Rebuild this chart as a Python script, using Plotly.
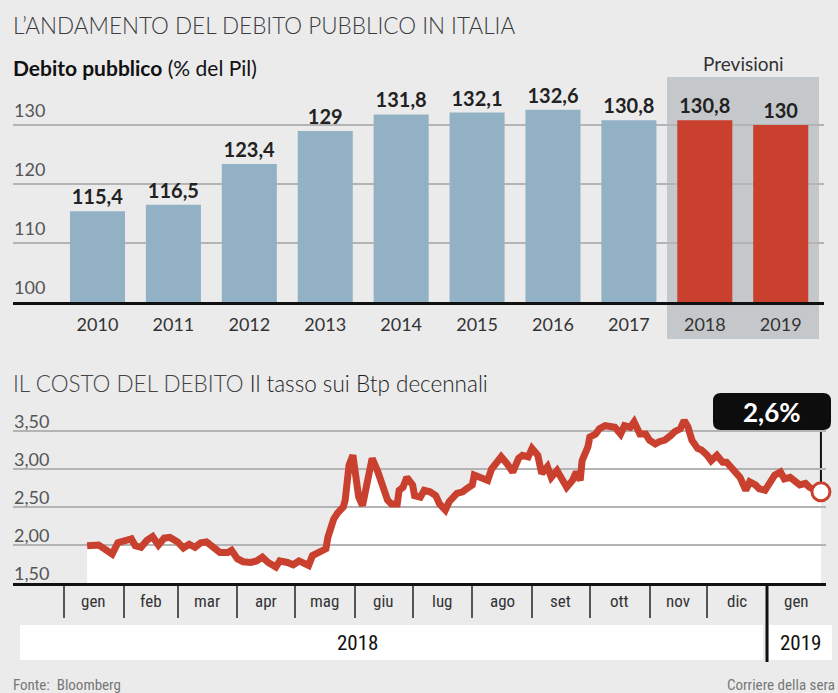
import plotly.graph_objects as go
import pandas as pd

# ---------------- data ----------------
years = ["2010", "2011", "2012", "2013", "2014", "2015", "2016", "2017", "2018", "2019"]
debt = [115.4, 116.5, 123.4, 129, 131.8, 132.1, 132.6, 130.8, 130.8, 130]
debt_text = ["115,4", "116,5", "123,4", "129", "131,8", "132,1", "132,6", "130,8", "130,8", "130"]
is_forecast = [False, False, False, False, False, False, False, False, True, True]
debt_ticks = [100, 110, 120, 130]

# 10-year BTP yield, days counted from 2018-01-01
rate_day = [12, 18, 21, 25, 28, 32, 35, 37, 40, 43,
            46, 49, 52, 55, 59, 62, 65, 68, 71, 74,
            77, 81, 85, 87, 90, 93, 97, 100, 103, 106,
            110, 112, 116, 119, 122, 124, 127, 129, 133, 136,
            137, 140, 142, 145, 146, 147, 148, 150, 151, 153,
            155, 158, 160, 163, 165, 168, 170, 173, 174, 176,
            178, 181, 182, 185, 187, 190, 193, 195, 198, 200,
            204, 207, 209, 212, 213, 216, 220, 222, 225, 227,
            230, 233, 236, 238, 241, 243, 246, 248, 251, 253,
            256, 259, 261, 264, 266, 268, 269, 272, 273, 276,
            278, 281, 283, 286, 289, 291, 294, 296, 299, 302,
            304, 307, 309, 312, 315, 317, 320, 322, 324, 326,
            329, 331, 334, 336, 339, 342, 344, 347, 349, 351,
            354, 356, 359, 361, 364, 367, 369, 372, 374, 377,
            380, 382, 385, 387, 390, 393]
rate = [1.99, 2.00, 1.95, 1.88, 2.03, 2.06, 2.08, 1.99, 1.97, 2.06,
        2.11, 2.00, 2.09, 2.10, 2.04, 1.96, 2.01, 1.97, 2.03, 2.04,
        1.98, 1.90, 1.90, 1.93, 1.82, 1.78, 1.77, 1.79, 1.84, 1.77,
        1.71, 1.79, 1.77, 1.74, 1.79, 1.77, 1.73, 1.86, 1.90, 1.95,
        2.10, 2.34, 2.42, 2.50, 2.59, 2.85, 3.05, 3.18, 2.94, 2.63,
        2.52, 2.94, 3.14, 2.96, 2.81, 2.59, 2.54, 2.54, 2.72, 2.76,
        2.89, 2.79, 2.65, 2.63, 2.72, 2.70, 2.65, 2.54, 2.46, 2.57,
        2.68, 2.70, 2.74, 2.79, 2.92, 2.89, 2.85, 3.00, 3.09, 3.16,
        3.07, 2.96, 3.14, 3.18, 3.16, 3.27, 3.18, 2.94, 3.03, 2.89,
        2.98, 2.85, 2.76, 2.85, 2.96, 2.85, 3.11, 3.29, 3.42, 3.46,
        3.53, 3.57, 3.57, 3.55, 3.46, 3.57, 3.55, 3.62, 3.46, 3.46,
        3.38, 3.33, 3.36, 3.38, 3.44, 3.49, 3.53, 3.64, 3.55, 3.38,
        3.27, 3.25, 3.18, 3.11, 3.18, 3.09, 3.09, 3.00, 2.94, 2.89,
        2.72, 2.83, 2.79, 2.74, 2.72, 2.83, 2.92, 2.96, 2.87, 2.89,
        2.81, 2.79, 2.81, 2.76, 2.72, 2.70]
rate_ticks = [1.5, 2.0, 2.5, 3.0, 3.5]
rate_tick_text = ["1,50", "2,00", "2,50", "3,00", "3,50"]
months = ["gen", "feb", "mar", "apr", "mag", "giu", "lug", "ago", "set", "ott", "nov", "dic", "gen"]
last_label = "2,6%"

# ---------------- style ----------------
W, H = 838, 693
BG = "#ebebec"
BLUE = "#93b1c4"
RED = "#c9402f"
GRID = "#b4b4b4"
FONT = "Lato, 'Open Sans', sans-serif"
NARROW = "'Liberation Sans Narrow', 'Roboto Condensed', 'Arial Narrow', sans-serif"


def px(x):
    return x / W


def py(y):
    return 1 - y / H


start = pd.Timestamp("2018-01-01")
dates = start + pd.to_timedelta(rate_day, unit="D")
month_starts = pd.date_range("2018-01-01", periods=14, freq="MS")
month_mids = [month_starts[i] + (month_starts[i + 1] - month_starts[i]) / 2 for i in range(13)]
day_per_px = 365 / 703.0
x3_range = [str(start - pd.Timedelta(days=51 * day_per_px)), str(start + pd.Timedelta(days=762 * day_per_px))]

R_LO, R_HI = 1.5, 3.75
R_TOP_PX, R_BOT_PX = 412, 583


def val_at(ypix):
    return R_LO + (R_BOT_PX - ypix) / (R_BOT_PX - R_TOP_PX) * (R_HI - R_LO)


fig = go.Figure()

# bars
fig.add_trace(go.Bar(
    x=list(range(len(years))), y=debt,
    marker_color=[RED if f else BLUE for f in is_forecast], marker_line_width=0,
    width=0.725, text=debt_text, textposition="outside", cliponaxis=False,
    textfont=dict(family=FONT, size=20, color="#222", weight="bold"),
    xaxis="x", yaxis="y", hoverinfo="skip",
))

# white area under the yield line (own subplot so gridlines sit above it)
fig.add_trace(go.Scatter(
    x=dates, y=rate, mode="lines", fill="tozeroy", fillcolor="white",
    line=dict(width=0, color="white"), xaxis="x2", yaxis="y2", hoverinfo="skip",
))
# yield line
fig.add_trace(go.Scatter(
    x=dates, y=rate, mode="lines", line=dict(color=RED, width=7),
    xaxis="x3", yaxis="y3", hoverinfo="skip",
))
# end marker
fig.add_trace(go.Scatter(
    x=[dates[-1]], y=[rate[-1]], mode="markers", cliponaxis=False,
    marker=dict(symbol="circle", size=18, color="white", line=dict(color=RED, width=3)),
    xaxis="x3", yaxis="y3", hoverinfo="skip",
))

shapes = []
# forecast shading
shapes.append(dict(type="rect", xref="paper", yref="paper", x0=px(667), x1=px(819),
                   y0=py(339), y1=py(77), fillcolor="#c5c8cb", line_width=0, layer="below"))
# white year bands
shapes.append(dict(type="rect", xref="paper", yref="paper", x0=px(20), x1=px(763),
                   y0=py(660), y1=py(625), fillcolor="white", line_width=0, layer="below"))
shapes.append(dict(type="rect", xref="paper", yref="paper", x0=px(769), x1=px(832),
                   y0=py(660), y1=py(625), fillcolor="white", line_width=0, layer="below"))
# year divider
shapes.append(dict(type="line", xref="x3", yref="paper", x0=month_starts[12], x1=month_starts[12],
                   y0=py(583), y1=py(662), line=dict(color="#111", width=3), layer="above"))
# callout connector
shapes.append(dict(type="line", xref="x3", yref="y3", x0=dates[-1], x1=dates[-1],
                   y0=rate[-1], y1=val_at(430), line=dict(color="#111", width=2), layer="below"))
# callout rounded box
bx0, bx1, by0, by1 = px(713), px(831), py(430), py(393)
rx, ry = 8 / W, 8 / H
path = (f"M {bx0+rx},{by1} L {bx1-rx},{by1} Q {bx1},{by1} {bx1},{by1-ry} "
        f"L {bx1},{by0+ry} Q {bx1},{by0} {bx1-rx},{by0} L {bx0+rx},{by0} "
        f"Q {bx0},{by0} {bx0},{by0+ry} L {bx0},{by1-ry} Q {bx0},{by1} {bx0+rx},{by1} Z")
shapes.append(dict(type="path", xref="paper", yref="paper", path=path,
                   fillcolor="#0d0d0d", line_width=0, layer="above"))

annotations = []
# titles
annotations.append(dict(text="L’ANDAMENTO DEL DEBITO PUBBLICO IN ITALIA", xref="paper", yref="paper",
                        x=px(11), y=py(26), xanchor="left", yanchor="middle", showarrow=False,
                        font=dict(family=FONT, size=22.5, color="#3c3c3c", weight=300)))
annotations.append(dict(text="<b>Debito pubblico</b> (% del Pil)", xref="paper", yref="paper",
                        x=px(11), y=py(67), xanchor="left", yanchor="middle", showarrow=False,
                        font=dict(family=FONT, size=21, color="#111")))
annotations.append(dict(text="Previsioni", xref="paper", yref="paper",
                        x=px(743), y=py(63), xanchor="center", yanchor="middle", showarrow=False,
                        font=dict(family=FONT, size=19, color="#333")))
annotations.append(dict(text="IL COSTO DEL DEBITO <span style='color:#222'>Il tasso sui Btp decennali</span>",
                        xref="paper", yref="paper",
                        x=px(11), y=py(383), xanchor="left", yanchor="middle", showarrow=False,
                        font=dict(family=FONT, size=22.5, color="#444", weight=300)))
# y labels top chart
for v in debt_ticks:
    annotations.append(dict(text=str(v), xref="paper", yref="y", x=px(12), y=v, yshift=15,
                            xanchor="left", yanchor="middle", showarrow=False,
                            font=dict(family=FONT, size=18, color="#555")))
# y labels bottom chart
for v, t in zip(rate_ticks, rate_tick_text):
    annotations.append(dict(text=t, xref="paper", yref="y3", x=px(12), y=v, yshift=10,
                            xanchor="left", yanchor="middle", showarrow=False,
                            font=dict(family=FONT, size=18, color="#555")))
# month labels
for m, d in zip(months, month_mids):
    annotations.append(dict(text=m, xref="x3", yref="paper", x=d, y=py(601),
                            xanchor="center", yanchor="middle", showarrow=False,
                            font=dict(family=NARROW, size=17, color="#333")))
annotations.append(dict(text="2018", xref="paper", yref="paper", x=px(357), y=py(643),
                        xanchor="center", yanchor="middle", showarrow=False,
                        font=dict(family=NARROW, size=21, color="#111")))
annotations.append(dict(text="2019", xref="paper", yref="paper", x=px(800), y=py(643),
                        xanchor="center", yanchor="middle", showarrow=False,
                        font=dict(family=NARROW, size=21, color="#111")))
annotations.append(dict(text=last_label, xref="paper", yref="paper", x=(bx0 + bx1) / 2, y=(by0 + by1) / 2,
                        xanchor="center", yanchor="middle", showarrow=False,
                        font=dict(family=FONT, size=26, color="white", weight="bold")))
annotations.append(dict(text="Fonte:  Bloomberg", xref="paper", yref="paper", x=px(11), y=py(685),
                        xanchor="left", yanchor="middle", showarrow=False,
                        font=dict(family=NARROW, size=15, color="#777")))
annotations.append(dict(text="Corriere della sera", xref="paper", yref="paper", x=px(837), y=py(685),
                        xanchor="right", yanchor="middle", showarrow=False,
                        font=dict(family=NARROW, size=15, color="#777")))

fig.update_layout(
    width=W, height=H, margin=dict(l=0, r=0, t=0, b=0),
    paper_bgcolor=BG, plot_bgcolor="rgba(0,0,0,0)", showlegend=False,
    shapes=shapes, annotations=annotations,
    xaxis=dict(domain=[px(13), px(824)], range=[-1.113, 9.57], tickvals=list(range(len(years))),
               ticktext=years, ticks="", showgrid=False, zeroline=False, showline=True,
               linecolor="#111", linewidth=3, ticklabelstandoff=4,
               tickfont=dict(family=FONT, size=18, color="#333"), anchor="y", fixedrange=True),
    yaxis=dict(domain=[py(302), py(302 - 36 * 5.9)], range=[100, 136], tickvals=debt_ticks[1:],
               showticklabels=False, showgrid=True, gridcolor=GRID, gridwidth=2, zeroline=False,
               ticks="", anchor="x", fixedrange=True),
    xaxis2=dict(domain=[px(13), px(826)], type="date", range=x3_range, visible=False, anchor="y2"),
    yaxis2=dict(domain=[py(R_BOT_PX), py(R_TOP_PX)], range=[R_LO, R_HI], visible=False, anchor="x2"),
    xaxis3=dict(domain=[px(13), px(826)], type="date", range=x3_range, showgrid=False, zeroline=False,
                showline=True, linecolor="#111", linewidth=3, ticks="outside", ticklen=32,
                tickwidth=1.5, tickcolor="#555", tickvals=list(month_starts[:13]),
                showticklabels=False, anchor="y3"),
    yaxis3=dict(domain=[py(R_BOT_PX), py(R_TOP_PX)], range=[R_LO, R_HI], tickvals=rate_ticks[1:],
                showticklabels=False, showgrid=True, gridcolor=GRID, gridwidth=2, zeroline=False,
                ticks="", anchor="x3"),
)

fig.write_html("out.html")
